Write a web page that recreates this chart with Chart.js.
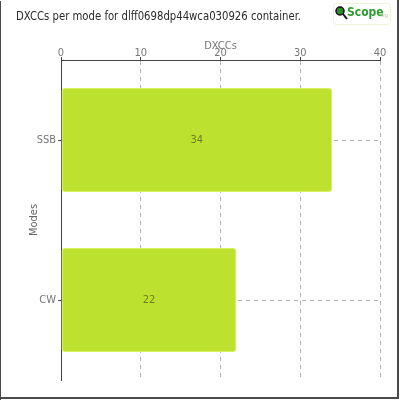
<!DOCTYPE html>
<html>
<head>
<meta charset="utf-8">
<script src="https://cdn.jsdelivr.net/npm/chart.js@4/dist/chart.umd.min.js"></script>
<style>
html,body{margin:0;padding:0;background:#fff;}
#wrap{width:400px;height:400px;position:relative;}
</style>
</head>
<body>
<div id="wrap"><canvas id="c" width="400" height="400"></canvas></div>
<script>
const chartTitle = "DXCCs per mode for dlff0698dp44wca030926 container.";
const categories = ["SSB", "CW"];
const dxccValues = [34, 22];
const xTicks = [0, 10, 20, 30, 40];
const xAxisTitle = "DXCCs";
const yAxisTitle = "Modes";

const FONT = "'DejaVu Sans Condensed', 'DejaVu Sans', sans-serif";

const decor = {
  id: 'decor',
  beforeDraw(chart) {
    const ctx = chart.ctx;
    ctx.save();
    ctx.fillStyle = '#fff';
    ctx.fillRect(0, 0, chart.width, chart.height);
    ctx.restore();
  },
  afterDraw(chart) {
    const ctx = chart.ctx;
    ctx.save();
    // frame
    ctx.fillStyle = '#4a4a4a';
    ctx.fillRect(0, 1, 1, 399);
    ctx.fillRect(397, 0, 2, 399);
    ctx.fillRect(0, 397, 399, 2);
    // title
    ctx.fillStyle = '#2b2b2b';
    ctx.font = "13px " + FONT;
    ctx.textBaseline = 'middle';
    ctx.textAlign = 'left';
    const w = ctx.measureText(chartTitle).width;
    const sx = 285 / w;
    ctx.save();
    ctx.translate(16, 17);
    ctx.scale(sx, 1);
    ctx.fillText(chartTitle, 0, 0);
    ctx.restore();
    // logo
    ctx.strokeStyle = '#eef2d8';
    ctx.lineWidth = 1;
    ctx.beginPath();
    if (ctx.roundRect) ctx.roundRect(333.5, 3.5, 57, 21, 3); else ctx.rect(333.5, 3.5, 57, 21);
    ctx.stroke();
    ctx.fillStyle = '#2e8b2e';
    ctx.beginPath(); ctx.arc(340, 11, 4, 0, Math.PI * 2); ctx.fill();
    ctx.strokeStyle = '#111'; ctx.lineWidth = 1.5;
    ctx.beginPath(); ctx.arc(340, 11, 4, 0, Math.PI * 2); ctx.stroke();
    ctx.lineWidth = 2;
    ctx.beginPath(); ctx.moveTo(343, 14); ctx.lineTo(347, 19); ctx.stroke();
    ctx.fillStyle = '#2f9a2f';
    ctx.font = "bold 12px " + FONT;
    ctx.fillText('Scope', 347, 13);
    ctx.fillStyle = '#9cc89c';
    ctx.font = "5px " + FONT;
    ctx.fillText('.org', 379, 16);
    // data labels
    const meta = chart.getDatasetMeta(0);
    ctx.fillStyle = '#6b7d2a';
    ctx.font = "11px " + FONT;
    ctx.textAlign = 'center';
    ctx.textBaseline = 'middle';
    meta.data.forEach((bar, i) => {
      const cx = (bar.x + bar.base) / 2;
      ctx.fillText(String(chart.data.datasets[0].data[i]), cx, bar.y);
    });
    ctx.restore();
  }
};

new Chart(document.getElementById('c'), {
  type: 'bar',
  data: {
    labels: categories,
    datasets: [{
      data: dxccValues,
      backgroundColor: '#bde12f',
      borderColor: '#d6f060',
      borderWidth: 1,
      borderRadius: 3,
      borderSkipped: false,
      barPercentage: 0.65,
      categoryPercentage: 1
    }]
  },
  options: {
    indexAxis: 'y',
    responsive: false,
    animation: false,
    devicePixelRatio: 1,
    layout: { padding: { left: 0, top: 36, right: 20, bottom: 20 } },
    plugins: { legend: { display: false }, tooltip: { enabled: false }, title: { display: false } },
    scales: {
      x: {
        position: 'top',
        min: 0, max: 40,
        afterBuildTicks(axis) { axis.ticks = xTicks.map(v => ({ value: v })); },
        afterFit(axis) { axis.height = 24; },
        ticks: { color: '#777', font: { family: FONT, size: 11 }, padding: -3, maxRotation: 0 },
        grid: {
          color: '#b4b4b4', tickLength: 3,
          tickColor: '#444', tickBorderDash: [], drawTicks: true
        },
        border: { display: true, color: '#444', width: 1, dash: [4, 4] },
        title: { display: true, text: xAxisTitle, color: '#777', font: { family: FONT, size: 11 }, padding: { top: 4, bottom: 0 } }
      },
      y: {
        afterFit(axis) { axis.width = 61; },
        ticks: { color: '#777', font: { family: FONT, size: 11 }, padding: 2 },
        grid: {
          offset: false,
          color: '#b4b4b4', tickLength: 3,
          tickColor: '#444', tickBorderDash: []
        },
        border: { display: true, color: '#444', width: 1, dash: [4, 4] },
        title: { display: true, text: yAxisTitle, color: '#666', font: { family: FONT, size: 11 }, padding: { top: 28, bottom: 0 } }
      }
    }
  },
  plugins: [decor]
});
</script>
</body>
</html>
